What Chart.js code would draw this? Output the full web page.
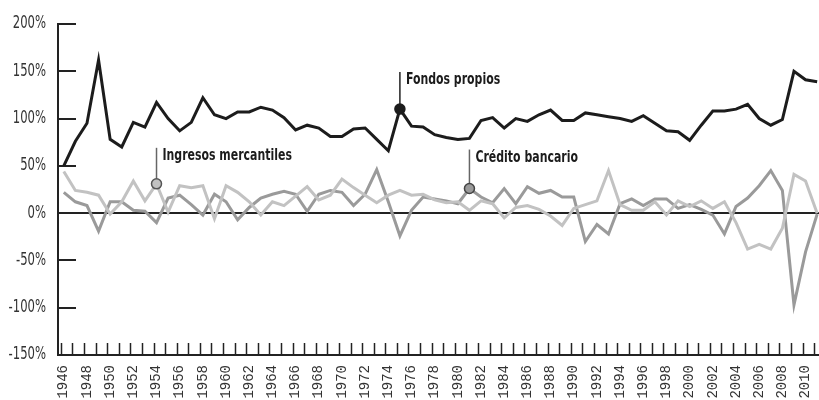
<!DOCTYPE html>
<html>
<head>
<meta charset="utf-8">
<script src="https://cdn.jsdelivr.net/npm/chart.js@4.4.1/dist/chart.umd.min.js"></script>
<style>
  html, body { margin: 0; padding: 0; background: #fff; }
  #wrap { width: 819px; height: 400px; position: relative; }
</style>
</head>
<body>
<div id="wrap"><canvas id="myChart"></canvas></div>
<script>
const years = [1946, 1947, 1948, 1949, 1950, 1951, 1952, 1953, 1954, 1955,
  1956, 1957, 1958, 1959, 1960, 1961, 1962, 1963, 1964, 1965,
  1966, 1967, 1968, 1969, 1970, 1971, 1972, 1973, 1974, 1975,
  1976, 1977, 1978, 1979, 1980, 1981, 1982, 1983, 1984, 1985,
  1986, 1987, 1988, 1989, 1990, 1991, 1992, 1993, 1994, 1995,
  1996, 1997, 1998, 1999, 2000, 2001, 2002, 2003, 2004, 2005,
  2006, 2007, 2008, 2009, 2010, 2011];

const fondosPropios = [50, 76, 95, 162, 78, 70, 96, 91, 117, 100,
  87, 96, 122, 104, 100, 107, 107, 112, 109, 101,
  88, 93, 90, 81, 81, 89, 90, 78, 66, 110,
  92, 91, 83, 80, 78, 79, 98, 101, 90, 100,
  97, 104, 109, 98, 98, 106, 104, 102, 100, 97,
  103, 95, 87, 86, 77, 93, 108, 108, 110, 115,
  100, 93, 99, 150, 141, 139];

const ingresosMercantiles = [44, 24, 22, 19, -1, 12, 34, 13, 31, 1,
  29, 27, 29, -6, 29, 22, 12, -2, 12, 8,
  18, 28, 14, 19, 36, 27, 19, 11, 19, 24,
  19, 20, 14, 11, 12, 3, 13, 10, -5, 6,
  8, 4, -3, -13, 5, 9, 13, 45, 9, 3,
  3, 12, -2, 13, 7, 13, 5, 12, -10, -38,
  -33, -38, -16, 41, 34, 0];

const creditoBancario = [22, 12, 8, -19, 12, 12, 3, 2, -10, 16,
  19, 9, -2, 20, 12, -7, 6, 16, 20, 23,
  20, 2, 20, 24, 22, 8, 20, 46, 12, -24,
  3, 17, 15, 13, 10, 26, 17, 11, 26, 10,
  28, 21, 24, 17, 17, -30, -12, -22, 10, 15,
  8, 15, 15, 5, 9, 4, -2, -22, 7, 16,
  29, 45, 24, -97, -41, -1];

const yTicks = [-150, -100, -50, 0, 50, 100, 150, 200];

const narrow = "'DejaVu Sans Condensed', 'DejaVu Sans', sans-serif";
// no real condensed face installed, so squeeze the text a bit
const squeeze = 0.76;

// which point each callout is hooked to
const callouts = [
  { dataset: 0, year: 1975, text: 'Fondos propios', rise: 37, fill: '#1c1c1c', stroke: '#1c1c1c', line: '#222' },
  { dataset: 1, year: 1954, text: 'Ingresos mercantiles', rise: 36, fill: '#c2c2c2', stroke: '#555', line: '#666' },
  { dataset: 2, year: 1981, text: 'Crédito bancario', rise: 39, fill: '#9a9a9a', stroke: '#444', line: '#666' }
];

function toPoints(vals) {
  return vals.map((v, i) => ({ x: years[i], y: v }));
}

function squeezedText(ctx, text, x, y, align) {
  ctx.save();
  ctx.translate(x, y);
  ctx.scale(squeeze, 1);
  ctx.textAlign = align;
  ctx.fillText(text, 0, 0);
  ctx.restore();
}

const axisMarks = {
  id: 'axisMarks',
  beforeDatasetsDraw(chart) {
    const { ctx, chartArea: a, scales: { x, y } } = chart;
    ctx.save();
    ctx.strokeStyle = '#222';
    ctx.lineWidth = 2;
    yTicks.forEach(v => {
      if (v === 0 || v === yTicks[0]) return;
      const py = Math.round(y.getPixelForValue(v));
      ctx.beginPath();
      ctx.moveTo(a.left, py);
      ctx.lineTo(a.left + 18, py);
      ctx.stroke();
    });
    const y0 = Math.round(y.getPixelForValue(0));
    ctx.beginPath();
    ctx.moveTo(a.left, y0);
    ctx.lineTo(a.right, y0);
    ctx.stroke();
    ctx.lineWidth = 1.5;
    years.forEach(yr => {
      const px = Math.round(x.getPixelForValue(yr) - 3) + 0.5;
      ctx.beginPath();
      ctx.moveTo(px, a.bottom);
      ctx.lineTo(px, a.bottom - 12);
      ctx.stroke();
    });
    // y labels
    ctx.fillStyle = '#333';
    ctx.font = '17px ' + narrow;
    ctx.textBaseline = 'middle';
    yTicks.forEach(v => {
      squeezedText(ctx, v + '%', a.left - 12, y.getPixelForValue(v), 'right');
    });
    ctx.restore();
  }
};

const calloutPlugin = {
  id: 'callouts',
  afterDatasetsDraw(chart) {
    const ctx = chart.ctx;
    ctx.save();
    callouts.forEach(c => {
      const pt = chart.getDatasetMeta(c.dataset).data[years.indexOf(c.year)];
      const top = pt.y - c.rise;
      ctx.strokeStyle = c.line;
      ctx.lineWidth = 1.5;
      ctx.beginPath();
      ctx.moveTo(pt.x, pt.y);
      ctx.lineTo(pt.x, top);
      ctx.stroke();
      ctx.beginPath();
      ctx.arc(pt.x, pt.y, 5, 0, Math.PI * 2);
      ctx.fillStyle = c.fill;
      ctx.fill();
      ctx.strokeStyle = c.stroke;
      ctx.lineWidth = 1.5;
      ctx.stroke();
      ctx.fillStyle = '#1c1c1c';
      ctx.font = '600 16px ' + narrow;
      ctx.textBaseline = 'alphabetic';
      squeezedText(ctx, c.text, pt.x + 6, top + 12, 'left');
    });
    ctx.restore();
  }
};

const ctx = document.getElementById('myChart').getContext('2d');
new Chart(ctx, {
  type: 'line',
  data: {
    datasets: [
      { label: 'Fondos propios', data: toPoints(fondosPropios), borderColor: '#1c1c1c', borderWidth: 3 },
      { label: 'Ingresos mercantiles', data: toPoints(ingresosMercantiles), borderColor: '#c2c2c2', borderWidth: 3 },
      { label: 'Crédito bancario', data: toPoints(creditoBancario), borderColor: '#9a9a9a', borderWidth: 3 }
    ]
  },
  options: {
    responsive: true,
    maintainAspectRatio: false,
    animation: false,
    layout: { padding: { top: 24, right: 0, bottom: 0, left: 0 } },
    elements: { point: { radius: 0 }, line: { tension: 0, borderJoinStyle: 'miter' } },
    plugins: { legend: { display: false }, tooltip: { enabled: false } },
    scales: {
      x: {
        type: 'linear',
        min: 1945.5,
        max: 2011.16,
        afterBuildTicks: s => { s.ticks = years.map(v => ({ value: v })); },
        afterFit: s => {
          s.height = 45;
          s.paddingLeft = 0;
          s.paddingRight = 0;
        },
        grid: { display: false, drawTicks: false },
        border: { display: true, color: '#222', width: 2 },
        ticks: {
          autoSkip: false,
          minRotation: 90,
          maxRotation: 90,
          padding: 10,
          color: '#333',
          font: { family: "'Liberation Mono', 'DejaVu Sans Mono', monospace", size: 14 },
          callback: v => (v % 2 === 0 ? String(v) : '')
        }
      },
      y: {
        min: -150,
        max: 200,
        afterBuildTicks: s => { s.ticks = yTicks.map(v => ({ value: v })); },
        afterFit: s => {
          s.width = 58;
          s.paddingTop = 0;
          s.paddingBottom = 0;
        },
        grid: { display: false, drawTicks: false },
        border: { display: true, color: '#222', width: 2 },
        ticks: { display: false }
      }
    }
  },
  plugins: [axisMarks, calloutPlugin]
});
</script>
</body>
</html>
